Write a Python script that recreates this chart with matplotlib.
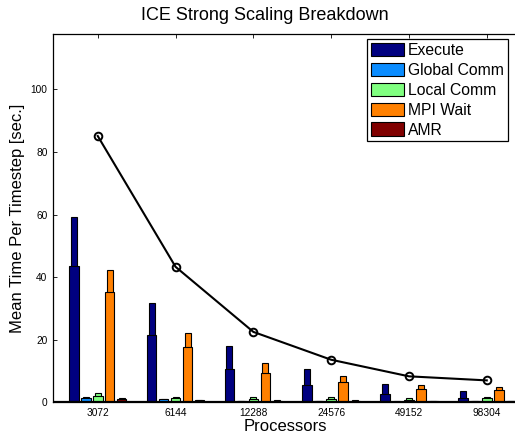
import matplotlib
matplotlib.use("Agg")
import matplotlib.pyplot as plt
from matplotlib.patches import Patch
import numpy as np

plt.rcParams['font.family'] = ['Liberation Sans', 'DejaVu Sans']

processors = ['3072', '6144', '12288', '24576', '49152', '98304']
series = ['Execute', 'Global Comm', 'Local Comm', 'MPI Wait', 'AMR']
colors = ['#000080', '#0A8CFF', '#80FF80', '#FF8000', '#800000']

# mean (wide bar) values per series, per processor count
mean_execute = [43.5, 21.5, 10.5, 5.4, 2.6, 1.3]
mean_global = [1.4, 0.9, 0.3, 0.3, 0.2, 0.3]
mean_local = [2.0, 1.5, 0.9, 1.0, 0.6, 1.5]
mean_mpi = [35.1, 17.7, 9.3, 6.4, 4.2, 3.9]
mean_amr = [1.1, 0.7, 0.5, 0.5, 0.4, 0.4]

# max (narrow bar) values
max_execute = [59.1, 31.7, 17.9, 10.8, 5.7, 3.6]
max_global = [1.6, 1.0, 0.4, 0.4, 0.3, 0.3]
max_local = [3.0, 1.8, 1.6, 1.6, 1.4, 1.8]
max_mpi = [42.4, 22.2, 12.5, 8.3, 5.4, 4.8]
max_amr = [1.4, 0.8, 0.6, 0.6, 0.5, 0.5]

total_time = [85.1, 43.3, 22.5, 13.6, 8.3, 7.0]

means = [mean_execute, mean_global, mean_local, mean_mpi, mean_amr]
maxes = [max_execute, max_global, max_local, max_mpi, max_amr]

W, H = 515, 436
fig = plt.figure(figsize=(W / 100, H / 100), dpi=100)
ax = fig.add_axes([53 / W, 1 - 402.3 / H, 478.5 / W, (402.3 - 34.3) / H])

x = np.arange(1, len(processors) + 1)
n = len(series)
group_w = min(0.8, n / (n + 1.5))
slot = group_w / n
for i in range(n):
    off = (i - (n - 1) / 2) * slot
    ax.bar(x + off, maxes[i], width=slot * 0.5, color=colors[i],
           edgecolor='black', linewidth=0.8, zorder=2)
    ax.bar(x + off, means[i], width=slot * 0.8, color=colors[i],
           edgecolor='black', linewidth=0.8, zorder=3)

ax.axhline(0, color='black', lw=1.6, zorder=4)
ax.plot(x, total_time, color='black', lw=1.5, marker='o', ms=5.5,
        mfc='none', mec='black', mew=1.4, zorder=5)

ax.set_xlim(0.425, 6.575)
ax.set_ylim(0, 117.6)
ax.set_xticks(x)
ax.set_xticklabels(processors)
ax.set_yticks([0, 20, 40, 60, 80, 100])
ax.tick_params(direction='in', length=3, width=0.6, labelsize=7.3,
               top=True, right=True, pad=4)
for s in ax.spines.values():
    s.set_linewidth(0.9)

fig.text(265 / W, 1 - 15 / H, 'ICE Strong Scaling Breakdown', ha='center',
         va='center', fontsize=13)
fig.text(285 / W, 1 - 426 / H, 'Processors', ha='center', va='center',
         fontsize=12)
fig.text(18 / W, 1 - 218 / H, 'Mean Time Per Timestep [sec.]', ha='center',
         va='center', rotation=90, fontsize=12)

handles = [Patch(facecolor=c, edgecolor='black', linewidth=0.8) for c in colors]
leg = fig.legend(handles, series, loc='upper left',
                 bbox_to_anchor=(367 / W, 1 - 39 / H), fontsize=11.3,
                 frameon=True, fancybox=False, framealpha=1,
                 edgecolor='black', handlelength=2.1, handleheight=0.95,
                 handletextpad=0.25, labelspacing=0.3, borderpad=0.25,
                 borderaxespad=0)
leg.get_frame().set_linewidth(0.9)

fig.savefig('out.png', dpi=100)
